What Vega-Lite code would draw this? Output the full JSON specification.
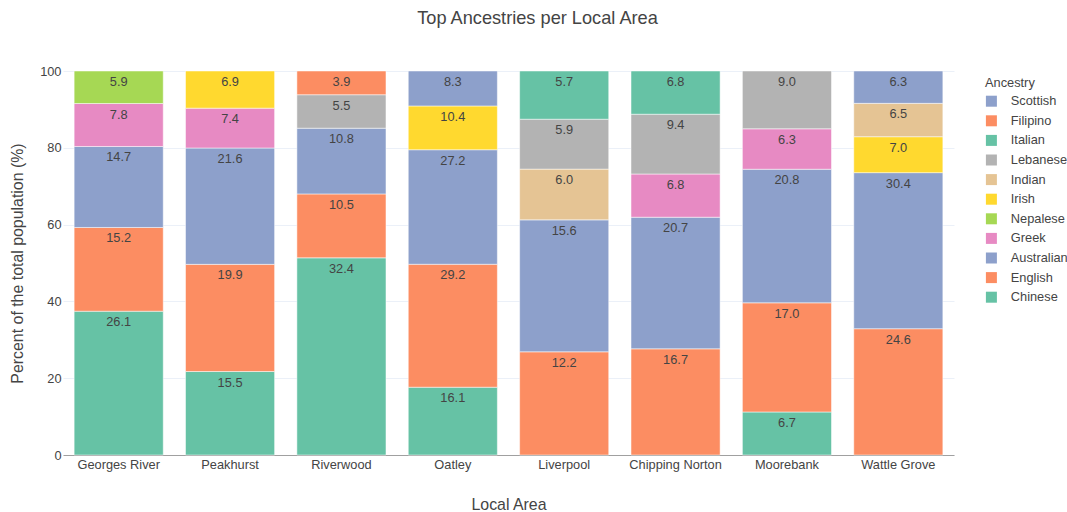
{
  "$schema": "https://vega.github.io/schema/vega-lite/v6.json",
  "width": 891,
  "height": 384,
  "autosize": {"type": "none"},
  "padding": {"left": 63, "top": 71, "right": 113, "bottom": 57},
  "background": "white",
  "config": {
    "font": "Liberation Sans",
    "view": {"stroke": null}
  },
  "title": {
    "text": "Top Ancestries per Local Area",
    "fontSize": 18.2,
    "fontWeight": "normal",
    "color": "#444444",
    "anchor": "middle",
    "dx": 29,
    "offset": 37
  },
  "datasets": {
    "ancestries": [
      {"ancestry": "Chinese", "rank": 0},
      {"ancestry": "English", "rank": 1},
      {"ancestry": "Australian", "rank": 2},
      {"ancestry": "Greek", "rank": 3},
      {"ancestry": "Nepalese", "rank": 4},
      {"ancestry": "Irish", "rank": 5},
      {"ancestry": "Indian", "rank": 6},
      {"ancestry": "Lebanese", "rank": 7},
      {"ancestry": "Italian", "rank": 8},
      {"ancestry": "Filipino", "rank": 9},
      {"ancestry": "Scottish", "rank": 10}
    ]
  },
  "data": {
    "values": [
      {"area": "Georges River", "ancestry": "Chinese", "value": 26.1},
      {"area": "Georges River", "ancestry": "English", "value": 15.2},
      {"area": "Georges River", "ancestry": "Australian", "value": 14.7},
      {"area": "Georges River", "ancestry": "Greek", "value": 7.8},
      {"area": "Georges River", "ancestry": "Nepalese", "value": 5.9},
      {"area": "Peakhurst", "ancestry": "Chinese", "value": 15.5},
      {"area": "Peakhurst", "ancestry": "English", "value": 19.9},
      {"area": "Peakhurst", "ancestry": "Australian", "value": 21.6},
      {"area": "Peakhurst", "ancestry": "Greek", "value": 7.4},
      {"area": "Peakhurst", "ancestry": "Irish", "value": 6.9},
      {"area": "Riverwood", "ancestry": "Chinese", "value": 32.4},
      {"area": "Riverwood", "ancestry": "English", "value": 10.5},
      {"area": "Riverwood", "ancestry": "Australian", "value": 10.8},
      {"area": "Riverwood", "ancestry": "Lebanese", "value": 5.5},
      {"area": "Riverwood", "ancestry": "Filipino", "value": 3.9},
      {"area": "Oatley", "ancestry": "Chinese", "value": 16.1},
      {"area": "Oatley", "ancestry": "English", "value": 29.2},
      {"area": "Oatley", "ancestry": "Australian", "value": 27.2},
      {"area": "Oatley", "ancestry": "Irish", "value": 10.4},
      {"area": "Oatley", "ancestry": "Scottish", "value": 8.3},
      {"area": "Liverpool", "ancestry": "English", "value": 12.2},
      {"area": "Liverpool", "ancestry": "Australian", "value": 15.6},
      {"area": "Liverpool", "ancestry": "Indian", "value": 6.0},
      {"area": "Liverpool", "ancestry": "Lebanese", "value": 5.9},
      {"area": "Liverpool", "ancestry": "Italian", "value": 5.7},
      {"area": "Chipping Norton", "ancestry": "English", "value": 16.7},
      {"area": "Chipping Norton", "ancestry": "Australian", "value": 20.7},
      {"area": "Chipping Norton", "ancestry": "Greek", "value": 6.8},
      {"area": "Chipping Norton", "ancestry": "Lebanese", "value": 9.4},
      {"area": "Chipping Norton", "ancestry": "Italian", "value": 6.8},
      {"area": "Moorebank", "ancestry": "Chinese", "value": 6.7},
      {"area": "Moorebank", "ancestry": "English", "value": 17.0},
      {"area": "Moorebank", "ancestry": "Australian", "value": 20.8},
      {"area": "Moorebank", "ancestry": "Greek", "value": 6.3},
      {"area": "Moorebank", "ancestry": "Lebanese", "value": 9.0},
      {"area": "Wattle Grove", "ancestry": "English", "value": 24.6},
      {"area": "Wattle Grove", "ancestry": "Australian", "value": 30.4},
      {"area": "Wattle Grove", "ancestry": "Irish", "value": 7.0},
      {"area": "Wattle Grove", "ancestry": "Indian", "value": 6.5},
      {"area": "Wattle Grove", "ancestry": "Scottish", "value": 6.3}
    ]
  },
  "transform": [
    {"lookup": "ancestry", "from": {"data": {"name": "ancestries"}, "key": "ancestry", "fields": ["rank"]}}
  ],
  "encoding": {
    "x": {
      "field": "area",
      "type": "nominal",
      "sort": ["Georges River", "Peakhurst", "Riverwood", "Oatley", "Liverpool", "Chipping Norton", "Moorebank", "Wattle Grove"],
      "scale": {"paddingInner": 0.2, "paddingOuter": 0.1},
      "axis": {
        "title": "Local Area",
        "labelAngle": 0,
        "labelFontSize": 12.8,
        "labelColor": "#444444",
        "labelPadding": 3,
        "ticks": false,
        "domainColor": "#a0a0a0",
        "domainWidth": 1,
        "titleFontSize": 15.9,
        "titleFontWeight": "normal",
        "titleColor": "#444444",
        "titlePadding": 26
      }
    },
    "y": {
      "field": "value",
      "type": "quantitative",
      "stack": "normalize",
      "scale": {"domain": [0, 1]},
      "axis": {
        "title": "Percent of the total population (%)",
        "values": [0, 0.2, 0.4, 0.6, 0.8, 1],
        "labelExpr": "round(datum.value * 100)",
        "labelFontSize": 12.8,
        "labelColor": "#444444",
        "labelPadding": 2,
        "ticks": false,
        "domain": false,
        "grid": true,
        "gridColor": "#ebf0f8",
        "gridWidth": 1,
        "titleFontSize": 15.9,
        "titleFontWeight": "normal",
        "titleColor": "#444444",
        "titlePadding": 14
      }
    },
    "order": {"field": "rank", "type": "quantitative", "sort": "ascending"}
  },
  "layer": [
    {
      "mark": {"type": "bar", "stroke": "white", "strokeWidth": 0.5},
      "encoding": {
        "color": {
          "field": "ancestry",
          "type": "nominal",
          "scale": {
            "domain": ["Scottish", "Filipino", "Italian", "Lebanese", "Indian", "Irish", "Nepalese", "Greek", "Australian", "English", "Chinese"],
            "range": ["#8da0cb", "#fc8d62", "#66c2a5", "#b3b3b3", "#e5c494", "#ffd92f", "#a6d854", "#e78ac3", "#8da0cb", "#fc8d62", "#66c2a5"]
          },
          "legend": {
            "title": "Ancestry",
            "orient": "none",
            "legendX": 922,
            "legendY": 6,
            "titleFontSize": 12.8,
            "titleFontWeight": "normal",
            "titleColor": "#444444",
            "titlePadding": 5,
            "labelFontSize": 12.8,
            "labelColor": "#444444",
            "labelOffset": 13,
            "symbolType": "square",
            "symbolSize": 121,
            "symbolStrokeWidth": 0,
            "symbolOpacity": 1,
            "rowPadding": 5.6
          }
        }
      }
    },
    {
      "mark": {"type": "text", "baseline": "alphabetic", "dy": 15, "fontSize": 12.8, "color": "#444444"},
      "encoding": {
        "detail": {"field": "ancestry", "type": "nominal"},
        "text": {"field": "value", "type": "quantitative", "format": ".1f"}
      }
    }
  ]
}
